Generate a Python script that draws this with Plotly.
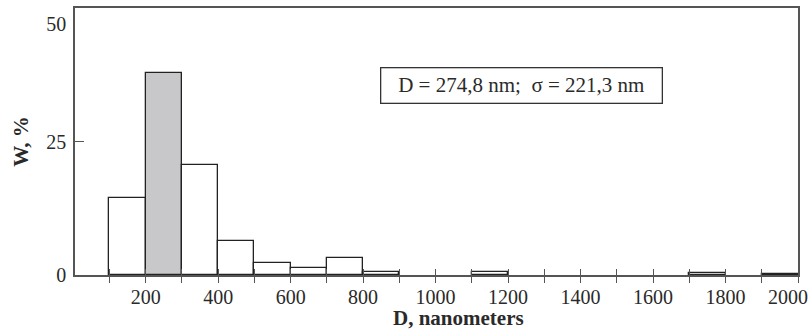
import plotly.graph_objects as go

# Data: histogram of particle sizes (bin lower edges, nm) and weight fraction, %
bin_left = [100, 200, 300, 400, 500, 600, 700, 800, 900, 1000,
            1100, 1200, 1300, 1400, 1500, 1600, 1700, 1800, 1900]
w_percent = [14.5, 37.9, 20.6, 6.4, 2.3, 1.4, 3.1, 0.65, 0, 0,
             0.65, 0, 0, 0, 0, 0, 0.45, 0, 0.15]
bin_width = 100
highlight_bin = 200

x_ticks = [200, 400, 600, 800, 1000, 1200, 1400, 1600, 1800, 2000]
y_ticks = [0, 25, 50]
x_title = "D, nanometers"
y_title = "W, %"
stats_text = "D = 274,8 nm;  \u03c3 = 221,3 nm"

# only non-empty bins get drawn (empty bins have no outline in the original)
drawn = [(b, v) for b, v in zip(bin_left, w_percent) if v > 0]
centers = [b + bin_width / 2 for b, _ in drawn]
heights = [v for _, v in drawn]
fills = ["#c8c8ca" if b == highlight_bin else "white" for b, _ in drawn]

FONT = "'Liberation Serif', 'Times New Roman', Times, serif"
INK = "#2a2a2a"
AX = "#555555"
CLEAR = "rgba(0,0,0,0)"
X_RANGE = [5, 2000]
Y_RANGE = [0, 50]

fig = go.Figure()
fig.add_trace(go.Bar(
    x=centers, y=heights, width=[bin_width] * len(centers),
    marker=dict(color=fills, line=dict(color="#222222", width=1.3)),
    showlegend=False, hoverinfo="x+y",
))

tick_font = dict(family=FONT, size=20, color=INK)

fig.update_layout(
    width=812, height=333,
    margin=dict(l=75, r=14, t=8, b=58, autoexpand=False),
    paper_bgcolor="white", plot_bgcolor="white",
    font=dict(family=FONT, size=20, color=INK),
    bargap=0,
    xaxis=dict(
        range=X_RANGE, tickvals=x_ticks[:-1], ticks="outside", ticklen=6,
        tickwidth=1.2, tickcolor=AX, automargin=False, ticklabelstandoff=-3,
        minor=dict(dtick=100, tick0=0, ticks="outside", ticklen=6, tickwidth=1.2, tickcolor=AX),
        showline=True, linecolor=AX, linewidth=1.5, mirror=True,
        showgrid=False, zeroline=False,
        tickfont=tick_font,
    ),
    # inside half of the crossing tick marks
    xaxis2=dict(
        overlaying="x", matches="x", anchor="y", side="bottom", automargin=False,
        tickvals=x_ticks, ticks="inside", ticklen=6, tickwidth=1.2, tickcolor=AX,
        minor=dict(dtick=100, tick0=0, ticks="inside", ticklen=6, tickwidth=1.2, tickcolor=AX),
        showticklabels=False, showline=False, showgrid=False, zeroline=False,
    ),
    # last x label, nudged inward as in the original
    xaxis3=dict(
        overlaying="x", matches="x", anchor="y", side="bottom", automargin=False,
        tickvals=x_ticks[-1:], ticks="outside", ticklen=6, tickcolor=CLEAR,
        ticklabelshift=-10, ticklabelstandoff=-3, ticklabeloverflow="allow",
        tickfont=tick_font,
        showline=True, linecolor=CLEAR, linewidth=1.5,
        showgrid=False, zeroline=False,
    ),
    yaxis=dict(
        range=Y_RANGE, tickvals=y_ticks[:-1], ticks="inside", ticklen=9,
        tickwidth=1.2, tickcolor=AX, automargin=False, ticklabelstandoff=3,
        showline=True, linecolor=AX, linewidth=1.5, mirror=True,
        showgrid=False, zeroline=False,
        title=dict(text="<b>" + y_title + "</b>", font=dict(family=FONT, size=21), standoff=12),
        tickfont=tick_font,
    ),
    # top y label, nudged inward as in the original
    yaxis2=dict(
        overlaying="y", matches="y", anchor="x", side="left", automargin=False,
        tickvals=y_ticks[-1:], ticks="inside", ticklen=9, tickcolor=CLEAR,
        ticklabelshift=16, ticklabelstandoff=3, ticklabeloverflow="allow",
        tickfont=tick_font,
        showline=True, linecolor=CLEAR, linewidth=1.5,
        showgrid=False, zeroline=False,
    ),
    annotations=[
        dict(
            text=stats_text, xref="paper", yref="paper", x=0.617, y=0.71,
            xanchor="center", yanchor="middle", showarrow=False,
            font=dict(family=FONT, size=21, color=INK),
            bordercolor="#333333", borderwidth=1.3, borderpad=4,
            width=272, height=26, bgcolor="white",
        ),
        dict(
            text="<b>" + x_title + "</b>", xref="paper", yref="paper",
            x=0.531, y=-0.161, xanchor="center", yanchor="middle",
            showarrow=False, font=dict(family=FONT, size=21, color=INK),
        ),
    ],
)

# invisible traces that activate the helper axes
fig.add_trace(go.Scatter(x=X_RANGE, y=[None, None], xaxis="x2", yaxis="y",
                         mode="lines", showlegend=False, hoverinfo="skip"))
fig.add_trace(go.Scatter(x=X_RANGE, y=[None, None], xaxis="x3", yaxis="y2",
                         mode="lines", showlegend=False, hoverinfo="skip"))

fig.write_html("out.html")
